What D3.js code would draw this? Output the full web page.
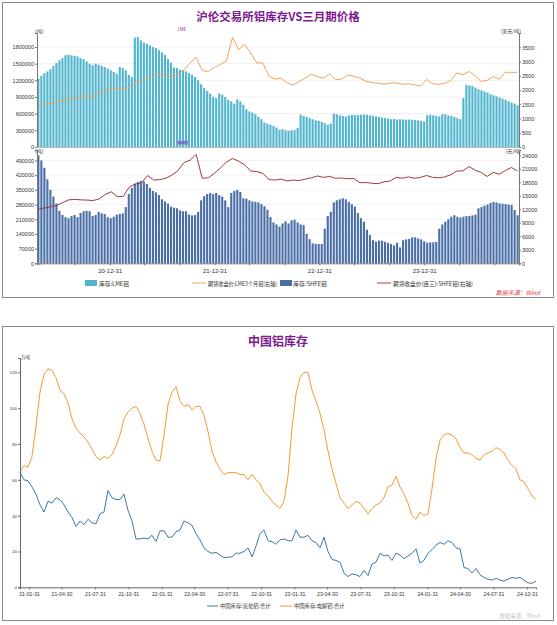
<!DOCTYPE html>
<html><head><meta charset="utf-8">
<script src="https://cdn.jsdelivr.net/npm/d3@7"></script>
<style>body{margin:0;background:#fff;} svg{display:block;font-family:"Noto Sans CJK SC","Noto Sans",sans-serif;}</style>
</head><body><svg id="c" width="557" height="625"></svg>
<script>
// ---------- Chart 1 data ----------
const lmeStockKt = [
 1230,1280,1330,1360,1400,1460,1510,1560,1600,1650,
 1660,1650,1640,1630,1600,1580,1540,1500,1470,1500,
 1480,1460,1440,1410,1380,1350,1320,1440,1420,1380,
 1300,1260,1970,1980,1920,1880,1860,1830,1800,1780,
 1740,1700,1660,1580,1520,1430,1420,1390,1380,1360,
 1330,1300,1260,1200,1130,1060,1010,960,900,880,
 960,940,900,850,820,780,860,820,760,680,
 640,620,590,540,500,440,420,400,380,350,
 310,320,300,290,300,300,340,580,560,540,
 520,500,480,470,450,430,400,420,600,590,
 570,560,550,570,580,575,575,580,585,580,
 570,560,550,540,530,520,510,500,505,495,
 500,495,490,495,490,485,480,470,460,570,
 580,570,560,550,590,590,570,560,540,520,
 500,880,1120,1110,1100,1070,1040,1020,1000,980,
 950,930,910,890,870,850,820,800,780,750];
const shfeStockKt = [
 515,490,455,400,350,318,285,250,230,220,
 215,225,230,220,240,248,250,248,225,230,
 245,238,235,220,215,222,232,235,238,268,
 330,360,380,388,392,390,378,360,345,338,
 325,305,295,285,270,265,262,252,248,248,
 232,228,230,245,300,320,330,335,330,335,
 325,318,300,268,335,345,350,340,310,308,
 300,295,293,290,282,272,255,220,195,185,
 175,190,200,190,205,208,195,185,182,140,
 115,95,92,92,92,165,225,246,290,300,
 305,310,305,293,282,270,240,215,198,160,
 135,110,103,108,108,102,98,92,85,98,
 76,110,114,116,124,124,118,114,105,98,
 100,100,102,165,185,198,210,222,229,222,
 218,222,225,225,228,232,262,268,275,280,
 288,292,290,286,284,282,280,278,254,229];
const lmePrice = [
 1490,1500,1540,1590,1630,1670,1700,1760,1800,1760,
 1900,1980,2050,2020,2030,2100,2250,2330,2420,2480,
 2560,2540,2440,2560,2700,2950,3150,2680,2650,2790,
 2900,3020,3850,3420,3600,3300,2950,2950,2500,2380,
 2420,2250,2170,2300,2420,2550,2460,2420,2560,2370,
 2380,2520,2480,2420,2310,2260,2240,2200,2240,2250,
 2200,2220,2180,2140,2370,2220,2200,2240,2330,2600,
 2540,2650,2500,2300,2340,2470,2380,2630,2600,2630];
const shfePrice = [
 12000,12300,12550,12900,13500,14100,14200,14100,14050,13950,
 14300,15300,15900,14800,14900,17000,17600,17900,19500,18500,
 18600,18900,19600,20600,22400,22900,24200,18900,19000,20000,
 21200,22500,23300,22700,21900,20500,20400,20000,18600,18500,
 18700,18300,18500,18400,18700,19000,19400,19100,19300,18900,
 18950,18800,18850,17900,17950,17800,17700,18100,18300,19100,
 18900,19200,18900,19100,19500,19100,19000,19200,19700,20500,
 20550,21500,20700,20200,19300,20200,19800,20600,21300,20500];
const topDateRange = ["2020-04-22","2024-11-25"];
const topYearTicks = ["2020-12-31","2021-12-31","2022-12-31","2023-12-31"];
const topMinorTicks = ["2020-04-30","2020-08-31","2020-12-31","2021-04-30","2021-08-31","2021-12-31","2022-04-30","2022-08-31","2022-12-31","2023-04-30","2023-08-31","2023-12-31","2024-04-30","2024-08-31"];
const lmeStockTicks = [0,300000,600000,900000,1200000,1500000,1800000];
const lmePriceTicks = [0,500,1000,1500,2000,2500,3000,3500];
const shfeStockTicks = [0,70000,140000,210000,280000,350000,420000,490000];
const shfePriceTicks = [0,3000,6000,9000,12000,15000,18000,21000,24000];

// ---------- Chart 2 data ----------
const electrolyticStock = [
 64.6,68,67,73,90,109,119,122,121,117,
 110,108,103,94,89,86,84,81,77,73,
 71,73,72,74,79,85,94,98,100,101,
 97,91,83,76,71,70.5,85,102,109,112,
 104,101,102,99,101,101,96,87,76,70,
 66,63,64,64,64,63,63,60,63,60,
 58,53,51,48,46,44,48,62,89,108,
 117,120,120,110,104,97,88,76,66,58,
 50,47,44,46,48,47,44,41,44,46,
 47,50,56,57,62,56,52,47,40,38,
 42,40,41,55,72,82,85,86,85,83,
 78,75,75,74,72,71,74,75,76,78,
 77,75,71,68,66,60,59,55,51,49];
const aluminaStock = [
 64,60,59.5,56,52,46,42,48,47,50,
 49,46,42,39,34,37,35,38,36,35.5,
 41,42,54,50,49,49,52,43,37,27,
 27,27.5,27,29,25.5,31.5,31.5,28,28,31,
 32,37,36,34.5,30,26.5,22,20,19,19.5,
 18,16.5,16.8,17,19,19,20,22,17,23,
 30,32,26,25.5,24,26.5,27,26,26,32,
 28,28,29,26,25,22,28,20,15.5,15,
 14,8,6,7.5,7,6,9.5,6.5,13,14,
 19,17.5,18,15,19,18,16,17.5,19,21.5,
 13.5,15,19,21,23.5,25,24,26,25,22,
 21.5,11,10.5,8,10.5,7,5.5,4.5,4,5,
 4,3.5,4.5,5.5,5,5.5,4,2.5,2.2,3.5];
const bottomDateRange = ["2021-01-06","2024-11-25"];
const bottomDateTicks = ["2021-01-31","2021-04-30","2021-07-31","2021-10-31","2022-01-31","2022-04-30","2022-07-31","2022-10-31","2023-01-31","2023-04-30","2023-07-31","2023-10-31","2024-01-31","2024-04-30","2024-07-31","2024-10-31"];
const bottomYTicks = [0,20,40,60,80,100,120];

// ---------- drawing ----------
const svg = d3.select("#c");
const purple = "#7d1a8f";
const parse = d3.utcParse("%Y-%m-%d");
const fmtDate = d3.utcFormat("%y-%m-%d");

function styleAxis(g, fs, col) {
  g.select(".domain").attr("stroke", col || "#777");
  g.selectAll(".tick line").attr("stroke", col || "#777");
  g.selectAll(".tick text").attr("font-size", fs).attr("fill", "#333").attr("font-family", "'Liberation Sans','DejaVu Sans',sans-serif");
}

// frames
svg.append("rect").attr("x",2.5).attr("y",2.5).attr("width",551).attr("height",295).attr("fill","none").attr("stroke","#8a8a8a");
svg.append("rect").attr("x",2.5).attr("y",326.5).attr("width",551).attr("height",294).attr("fill","none").attr("stroke","#8a8a8a");

// ===== Chart 1 =====
svg.append("text").attr("x",278).attr("y",21).attr("text-anchor","middle").attr("font-size",11.5).attr("font-weight","bold").attr("fill",purple).text("沪伦交易所铝库存VS三月期价格");

const X0 = 37, X1 = 519;
const xTime = d3.scaleUtc().domain(topDateRange.map(parse)).range([X0, X1]);
const xBand = d3.scaleBand().domain(d3.range(lmeStockKt.length)).range([X0, X1]).paddingInner(0.3).paddingOuter(0.1);
const xLine = d3.scaleLinear().domain([0, lmePrice.length - 1]).range([X0 + 1.5, X1 - 1.5]);

// upper panel
const yL1 = d3.scaleLinear().domain([0, 2052]).range([147, 33]);
const yR1 = d3.scaleLinear().domain([0, 4000]).range([147, 33]);
svg.append("g").selectAll("line").data(lmeStockTicks.slice(1)).join("line")
  .attr("x1",X0).attr("x2",X1).attr("y1",d=>yL1(d/1000)).attr("y2",d=>yL1(d/1000)).attr("stroke","#f0f0f0");
svg.append("g").selectAll("rect").data(lmeStockKt).join("rect")
  .attr("x",(d,i)=>xBand(i)).attr("y",d=>yL1(d)).attr("width",xBand.bandwidth()).attr("height",d=>yL1(0)-yL1(d)).attr("fill","#50b5cd");
svg.append("path").datum(lmePrice).attr("d", d3.line().x((d,i)=>xLine(i)).y(d=>yR1(d)))
  .attr("fill","none").attr("stroke","#f2a45f").attr("stroke-width",1);
svg.append("g").attr("transform",`translate(${X0},0)`)
  .call(d3.axisLeft(yL1).tickValues(lmeStockTicks.map(t=>t/1000)).tickFormat(d=>String(Math.round(d*1000))).tickSize(2).tickPadding(1))
  .call(g=>styleAxis(g,5.5));
svg.append("g").attr("transform",`translate(${X1},0)`)
  .call(d3.axisRight(yR1).tickValues(lmePriceTicks).tickFormat(d=>String(d)).tickSize(2).tickPadding(1))
  .call(g=>styleAxis(g,5.5));
svg.append("line").attr("x1",X0).attr("x2",X1).attr("y1",147.5).attr("y2",147.5).attr("stroke","#bbb");
svg.append("text").attr("x",X0-2).attr("y",33).attr("font-size",5).attr("fill","#333").text("(吨)");
svg.append("text").attr("x",X1+2).attr("y",33).attr("text-anchor","end").attr("font-size",5).attr("fill","#333").text("(美元/吨)");
svg.append("text").attr("x",182).attr("y",31).attr("text-anchor","middle").attr("font-size",4.5).attr("fill",purple).text("LME");

// lower panel
const yL2 = d3.scaleLinear().domain([0, 540]).range([263.3, 150]);
const yR2 = d3.scaleLinear().domain([0, 25180]).range([263.3, 150]);
svg.append("g").selectAll("line").data(shfeStockTicks.slice(1)).join("line")
  .attr("x1",X0).attr("x2",X1).attr("y1",d=>yL2(d/1000)).attr("y2",d=>yL2(d/1000)).attr("stroke","#f3f3f3");
svg.append("g").selectAll("rect").data(shfeStockKt).join("rect")
  .attr("x",(d,i)=>xBand(i)).attr("y",d=>yL2(d)).attr("width",xBand.bandwidth()).attr("height",d=>yL2(0)-yL2(d)).attr("fill","#4a6fa7");
svg.append("path").datum(shfePrice).attr("d", d3.line().x((d,i)=>xLine(i)).y(d=>yR2(d)))
  .attr("fill","none").attr("stroke","#9e3a3c").attr("stroke-width",1);
svg.append("g").attr("transform",`translate(${X0},0)`)
  .call(d3.axisLeft(yL2).tickValues(shfeStockTicks.map(t=>t/1000)).tickFormat(d=>String(Math.round(d*1000))).tickSize(2).tickPadding(1))
  .call(g=>styleAxis(g,5.5));
svg.append("g").attr("transform",`translate(${X1},0)`)
  .call(d3.axisRight(yR2).tickValues(shfePriceTicks).tickFormat(d=>String(d)).tickSize(2).tickPadding(1))
  .call(g=>styleAxis(g,5.5));
const xAx1 = svg.append("g").attr("transform","translate(0,263.3)")
  .call(d3.axisBottom(xTime).tickValues(topMinorTicks.map(parse)).tickFormat(d=>topYearTicks.includes(d3.utcFormat("%Y-%m-%d")(d)) ? fmtDate(d) : "").tickSize(2).tickPadding(3));
styleAxis(xAx1,6);
svg.append("text").attr("x",X0-2).attr("y",153).attr("font-size",5).attr("fill","#333").text("(吨)");
svg.append("text").attr("x",X1+2).attr("y",153).attr("text-anchor","end").attr("font-size",5).attr("fill","#333").text("(元/吨)");
svg.append("rect").attr("x",176).attr("y",140.5).attr("width",13).attr("height",4.5).attr("fill","#7f9fd6");
svg.append("text").attr("x",182.5).attr("y",144.3).attr("text-anchor","middle").attr("font-size",4).attr("fill",purple).text("SHFE");

// legend chart 1
const lg = svg.append("g").attr("font-size",6).attr("fill","#333");
function legText(x, len, s) {
  lg.append("text").attr("x",x).attr("y",285.8).attr("textLength",len).attr("lengthAdjust","spacingAndGlyphs").text(s);
}
lg.append("rect").attr("x",85).attr("y",280).attr("width",12).attr("height",6).attr("fill","#50b5cd");
legText(99, 30, "库存:LME铝");
lg.append("line").attr("x1",192).attr("x2",206).attr("y1",283).attr("y2",283).attr("stroke","#f2a45f");
legText(208, 69, "期货收盘价:LME3个月铝(右轴)");
lg.append("rect").attr("x",280).attr("y",280).attr("width",12).attr("height",6).attr("fill","#4a6fa7");
legText(293, 34, "库存:SHFE铝");
lg.append("line").attr("x1",377).attr("x2",391).attr("y1",283).attr("y2",283).attr("stroke","#9e3a3c");
legText(393, 80, "期货收盘价(连三):SHFE铝(右轴)");
svg.append("text").attr("x",540).attr("y",295).attr("text-anchor","end").attr("font-size",6).attr("font-style","italic").attr("fill","#e03c3c").text("数据来源：Wind");

// ===== Chart 2 =====
svg.append("text").attr("x",278).attr("y",346).attr("text-anchor","middle").attr("font-size",12).attr("font-weight","bold").attr("fill",purple).text("中国铝库存");
const BX0 = 20, BX1 = 536;
const x2 = d3.scaleUtc().domain(bottomDateRange.map(parse)).range([BX0, BX1]);
const xi2 = d3.scaleLinear().domain([0, electrolyticStock.length - 1]).range([BX0, BX1]);
const y2 = d3.scaleLinear().domain([0, 128]).range([587.3, 358]);
svg.append("path").datum(electrolyticStock).attr("d", d3.line().x((d,i)=>xi2(i)).y(d=>y2(d)))
  .attr("fill","none").attr("stroke","#f29b38").attr("stroke-width",1);
svg.append("path").datum(aluminaStock).attr("d", d3.line().x((d,i)=>xi2(i)).y(d=>y2(d)))
  .attr("fill","none").attr("stroke","#3b7aa8").attr("stroke-width",1);
svg.append("g").attr("transform",`translate(${BX0},0)`)
  .call(d3.axisLeft(y2).tickValues(bottomYTicks).tickFormat(d=>String(d)).tickSize(2).tickPadding(1))
  .call(g=>styleAxis(g,4.3,"#666"));
svg.append("g").attr("transform","translate(0,587.3)")
  .call(d3.axisBottom(x2).tickValues(bottomDateTicks.map(parse)).tickFormat(fmtDate).tickSize(2).tickPadding(3))
  .call(g=>styleAxis(g,5.2,"#666"));
svg.append("text").attr("x",BX0+1).attr("y",359).attr("font-size",4.5).attr("fill","#333").text("万吨");

const lg2 = svg.append("g").attr("font-size",5.3).attr("fill","#333");
lg2.append("line").attr("x1",207).attr("x2",218).attr("y1",606).attr("y2",606).attr("stroke","#3b7aa8");
lg2.append("text").attr("x",220).attr("y",608).text("中国库存:氧化铝:合计");
lg2.append("line").attr("x1",280).attr("x2",292).attr("y1",606).attr("y2",606).attr("stroke","#f29b38");
lg2.append("text").attr("x",294).attr("y",608).text("中国库存:电解铝:合计");
svg.append("text").attr("x",540).attr("y",618).attr("text-anchor","end").attr("font-size",5.5).attr("fill","#c4c4c4").text("数据来源：Wind");
</script></body></html>
